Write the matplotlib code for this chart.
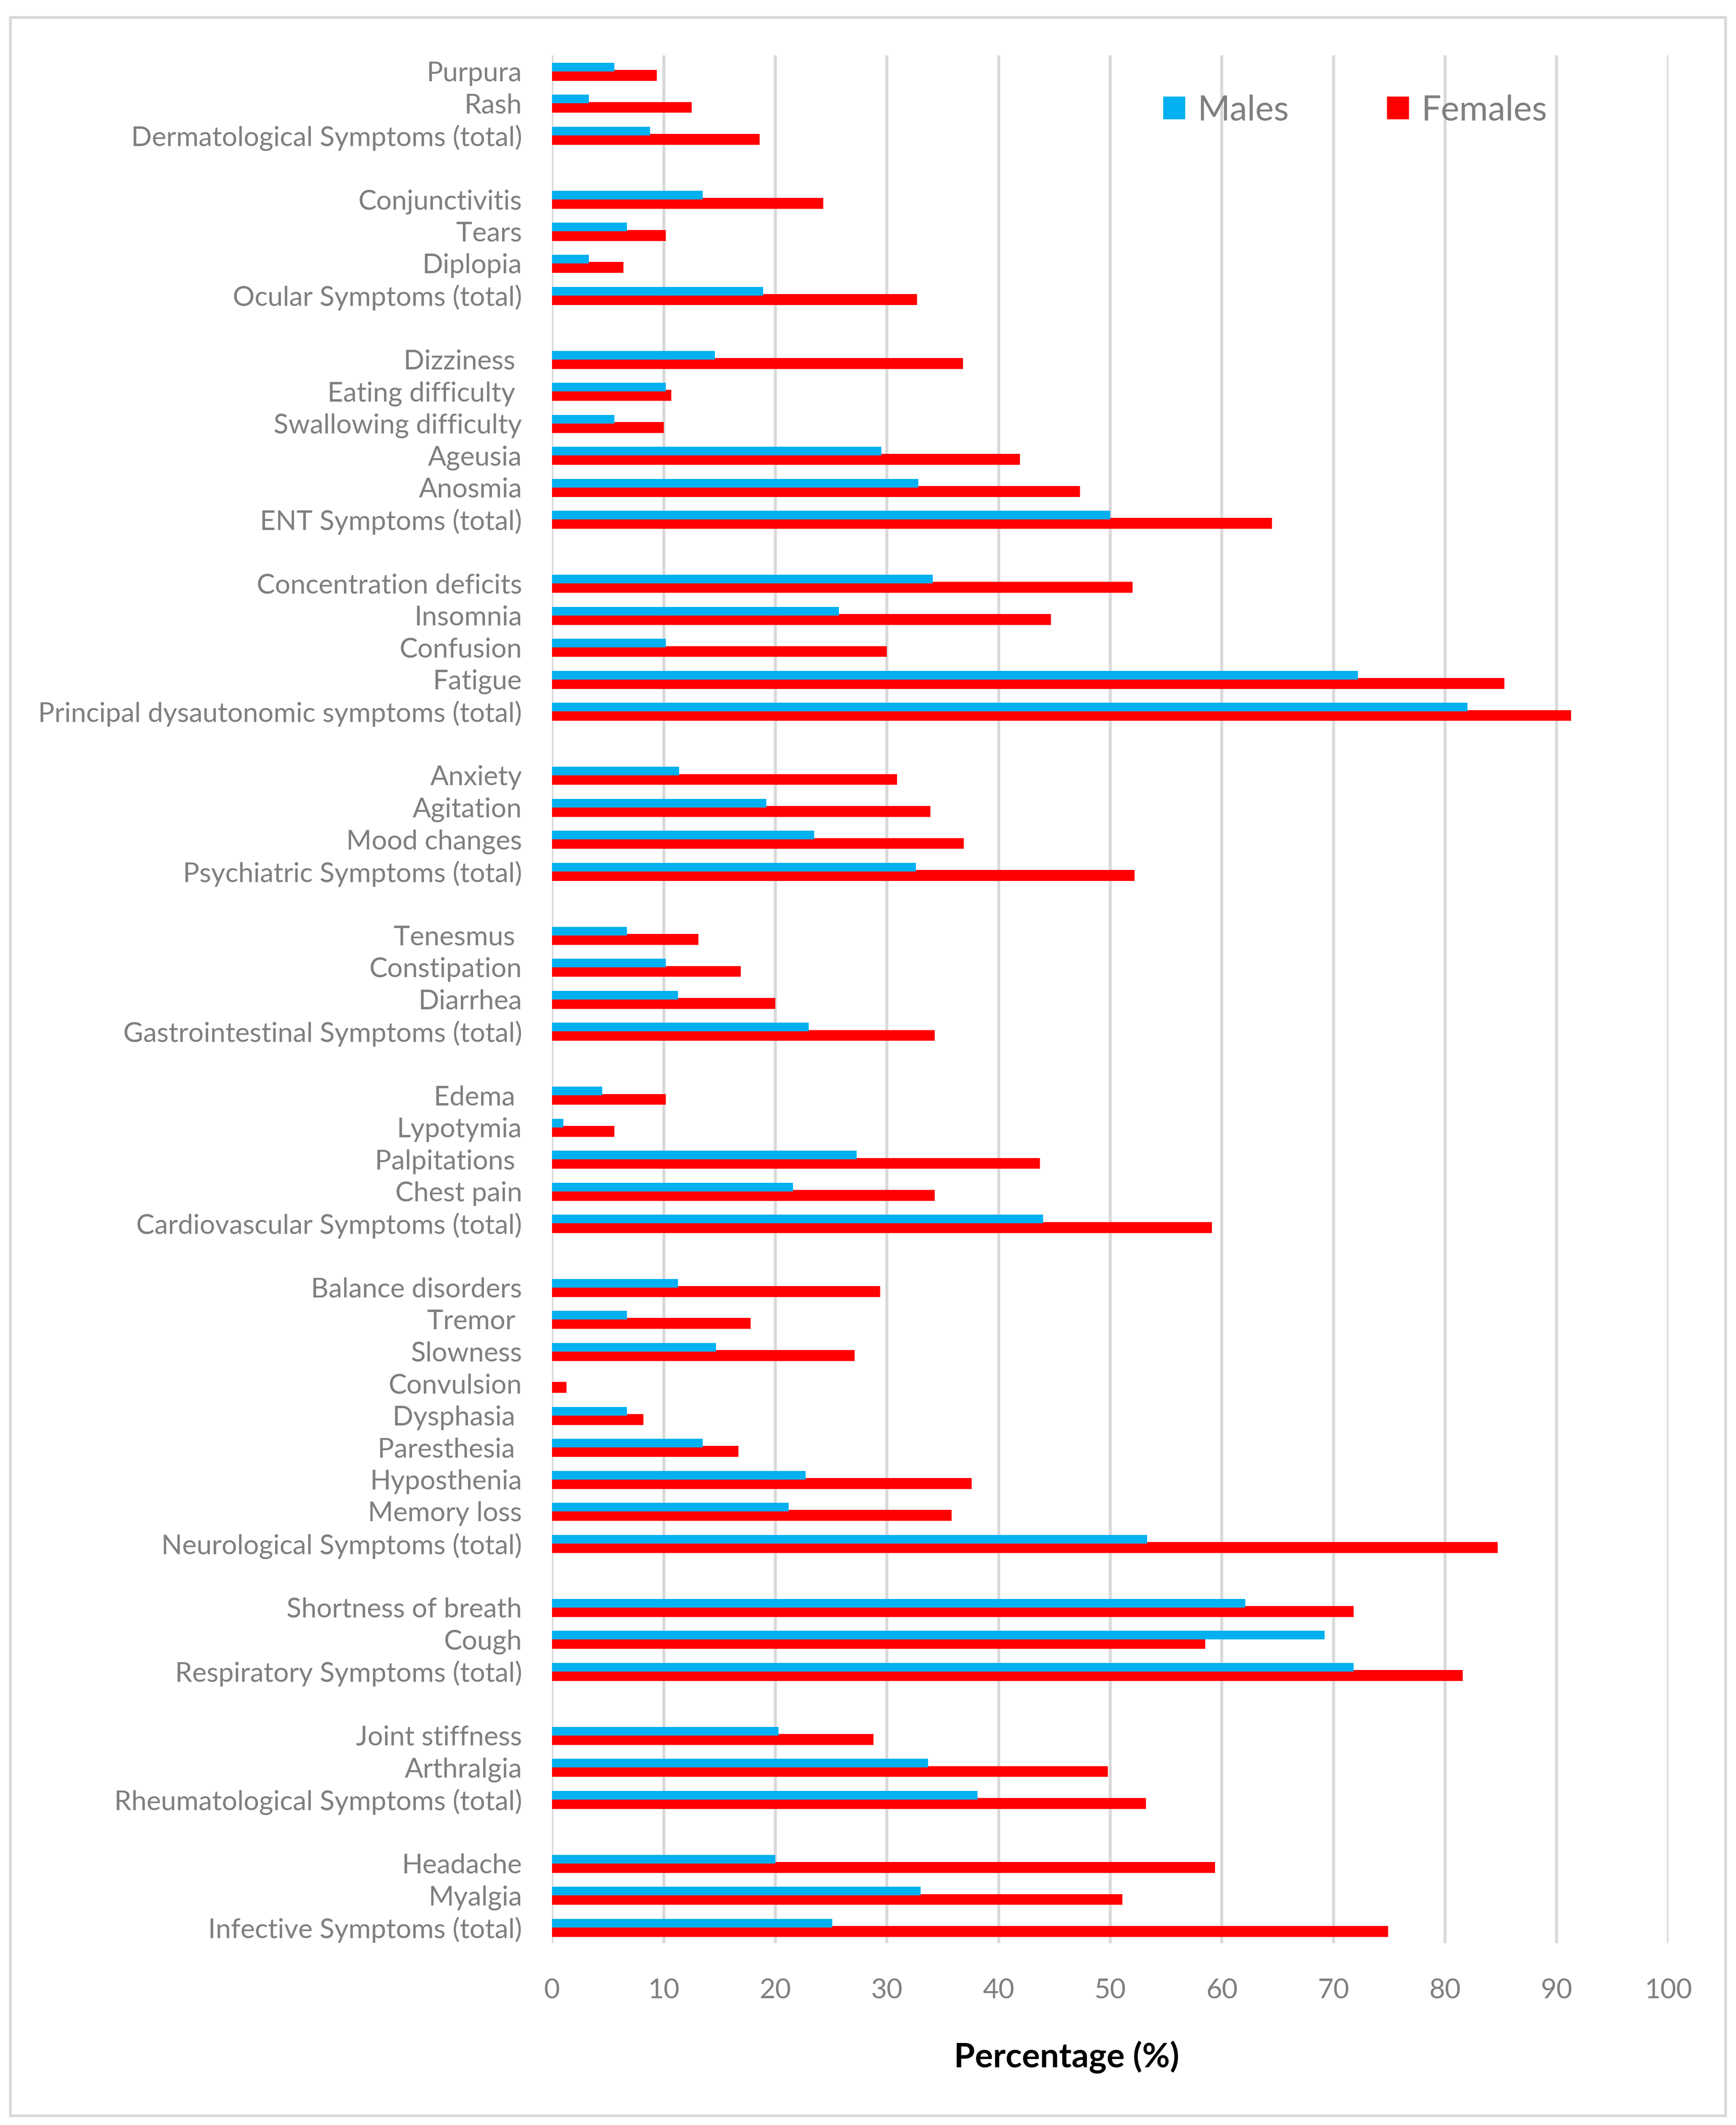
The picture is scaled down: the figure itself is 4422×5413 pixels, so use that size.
import matplotlib.pyplot as plt
import numpy as np
from matplotlib.patches import Rectangle

# Symptom categories, from top to bottom ("" = empty row between groups)
categories = [
    "Purpura", "Rash", "Dermatological Symptoms (total)", "",
    "Conjunctivitis", "Tears", "Diplopia", "Ocular Symptoms (total)", "",
    "Dizziness ", "Eating difficulty ", "Swallowing difficulty", "Ageusia",
    "Anosmia", "ENT Symptoms (total)", "",
    "Concentration deficits", "Insomnia", "Confusion", "Fatigue",
    "Principal dysautonomic symptoms (total)", "",
    "Anxiety", "Agitation", "Mood changes", "Psychiatric Symptoms (total)", "",
    "Tenesmus ", "Constipation", "Diarrhea", "Gastrointestinal Symptoms (total)", "",
    "Edema ", "Lypotymia", "Palpitations ", "Chest pain",
    "Cardiovascular Symptoms (total)", "",
    "Balance disorders", "Tremor ", "Slowness", "Convulsion", "Dysphasia ",
    "Paresthesia ", "Hyposthenia", "Memory loss", "Neurological Symptoms (total)", "",
    "Shortness of breath", "Cough", "Respiratory Symptoms (total)", "",
    "Joint stiffness", "Arthralgia", "Rheumatological Symptoms (total)", "",
    "Headache", "Myalgia", "Infective Symptoms (total)",
]

# Percentages (None for the empty rows)
males = [
    5.6, 3.3, 8.8, None,
    13.5, 6.7, 3.3, 18.9, None,
    14.6, 10.2, 5.6, 29.5, 32.8, 50.0, None,
    34.1, 25.7, 10.2, 72.2, 82.0, None,
    11.4, 19.2, 23.5, 32.6, None,
    6.7, 10.2, 11.3, 23.0, None,
    4.5, 1.0, 27.3, 21.6, 44.0, None,
    11.3, 6.7, 14.7, 0.0, 6.7, 13.5, 22.7, 21.2, 53.3, None,
    62.1, 69.2, 71.8, None,
    20.3, 33.7, 38.1, None,
    20.0, 33.0, 25.1,
]
females = [
    9.4, 12.5, 18.6, None,
    24.3, 10.2, 6.4, 32.7, None,
    36.8, 10.7, 10.0, 41.9, 47.3, 64.5, None,
    52.0, 44.7, 30.0, 85.3, 91.3, None,
    30.9, 33.9, 36.9, 52.2, None,
    13.1, 16.9, 20.0, 34.3, None,
    10.2, 5.6, 43.7, 34.3, 59.1, None,
    29.4, 17.8, 27.1, 1.3, 8.2, 16.7, 37.6, 35.8, 84.7, None,
    71.8, 58.5, 81.6, None,
    28.8, 49.8, 53.2, None,
    59.4, 51.1, 74.9,
]

plt.rcParams['font.family'] = ['Lato', 'DejaVu Sans']

fig = plt.figure(figsize=(44.22, 54.13), dpi=100)
ax = fig.add_axes([0.318, 0.0855, 0.643, 0.8885])

y = np.arange(len(categories))
m = np.array([np.nan if v is None else v for v in males])
f = np.array([np.nan if v is None else v for v in females])

ax.barh(y + 0.13, f, height=0.34, color='#FF0000', label='Females', zorder=2)
ax.barh(y - 0.13, m, height=0.27, color='#00B0F0', label='Males', zorder=3)

ax.set_ylim(len(categories) - 0.5, -0.5)
ax.set_xlim(0, 100)
ax.set_xticks(np.arange(0, 101, 10))
ax.set_yticks(y)
ax.set_yticklabels(categories)
ax.tick_params(axis='y', length=0, pad=55, labelsize=50, labelcolor='#7F7F7F')
ax.tick_params(axis='x', length=0, pad=64, labelsize=50, labelcolor='#7F7F7F')
ax.grid(axis='x', color='#D9D9D9', linewidth=5.5, zorder=0)
ax.set_axisbelow(True)
for s in ax.spines.values():
    s.set_visible(False)

# legend (Males first)
h, l = ax.get_legend_handles_labels()
fig.legend(h[::-1], l[::-1], loc='center left', bbox_to_anchor=(0.67, 0.948),
           ncol=2, frameon=False, fontsize=64, labelcolor='#7F7F7F',
           handlelength=0.63, handleheight=0.63, handletextpad=0.36,
           columnspacing=2.8, borderpad=0, borderaxespad=0)

fig.text(0.6144, 0.0320, 'Percentage (%)', ha='center', va='center',
         fontsize=62, fontweight='bold', color='black')

# light grey frame round the whole chart
fig.patches.append(Rectangle((0.0059, 0.0044), 0.988, 0.9875, transform=fig.transFigure,
                             fill=False, edgecolor='#D9D9D9', linewidth=5))

fig.savefig('out.png', dpi=100, facecolor='white')
